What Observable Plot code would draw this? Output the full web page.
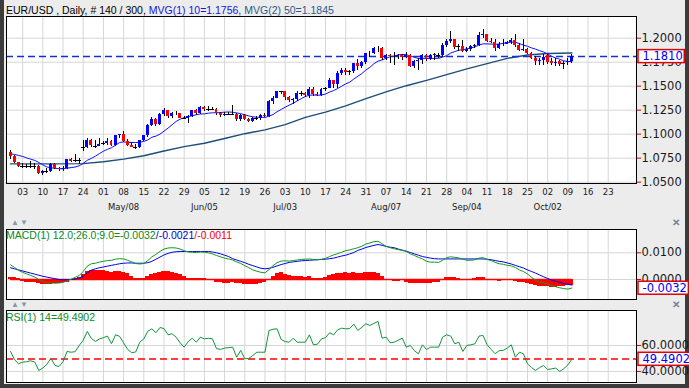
<!DOCTYPE html>
<html><head><meta charset="utf-8">
<script src="https://cdn.jsdelivr.net/npm/d3@7"></script>
<script src="https://cdn.jsdelivr.net/npm/@observablehq/plot@0.6"></script>
<style>
body{margin:0;background:#fff;}
#wrap{position:relative;width:689px;height:388px;background:#3c3c3c;overflow:hidden;font-family:"Liberation Sans",Arial,sans-serif;}
#inner{position:absolute;left:4px;top:0;width:681px;height:384px;background:#ececec;}
.svgp{position:absolute;left:0;}
.lbl{position:absolute;white-space:nowrap;font-size:10.5px;line-height:12px;}
.arr{position:absolute;font-size:8px;color:#8597b0;letter-spacing:1px;line-height:8px;}
.xic{position:absolute;font-size:10px;font-weight:bold;color:#72839a;line-height:10px;}
</style></head><body>
<div id="wrap"><div id="inner"></div>
<div class="lbl" style="left:6px;top:4px;"><span style="color:#000">EUR/USD , Daily, # 140 / 300, </span><span style="color:#1414e6">MVG(1) 10=1.1756, </span><span style="color:#2b5b8c">MVG(2) 50=1.1845</span></div>
<div class="arr" style="left:11px;top:219px;">▲▼</div>
<div class="xic" style="left:672px;top:218px;">✕</div>
<div class="arr" style="left:11px;top:301px;">▲▼</div>
<div class="xic" style="left:672px;top:300px;">✕</div>
</div>
<script>
// ---------- data (EUR/USD daily, 29 Mar 2017 .. 10 Oct 2017) ----------
const priorCloses = [1.0775,1.0760,1.0770,1.0811,1.0796,1.0790,1.0805,1.0866,1.0820];
const open = [1.0814,1.0767,1.0700,1.0660,1.0664,1.0661,1.0663,1.0660,1.0592,1.0610,
1.0607,1.0680,1.0645,1.0628,1.0644,1.0731,1.0718,1.0721,1.0862,1.0858,
1.0930,1.0877,1.0874,1.0895,1.0899,1.0928,1.0883,1.0985,1.0998,1.0928,
1.0877,1.0866,1.0863,1.0934,1.0981,1.1089,1.1158,1.1103,1.1206,1.1243,
1.1185,1.1216,1.1211,1.1165,1.1162,1.1181,1.1243,1.1214,1.1283,1.1255,
1.1258,1.1255,1.1211,1.1195,1.1200,1.1203,1.1206,1.1150,1.1198,1.1149,
1.1132,1.1166,1.1163,1.1195,1.1180,1.1336,1.1375,1.1443,1.1440,1.1380,
1.1346,1.1360,1.1422,1.1419,1.1402,1.1465,1.1414,1.1405,1.1470,1.1474,
1.1557,1.1515,1.1633,1.1665,1.1645,1.1648,1.1732,1.1700,1.1749,1.1840,
1.1845,1.1890,1.1895,1.1790,1.1815,1.1810,1.1805,1.1822,1.1795,1.1818,
1.1705,1.1760,1.1765,1.1815,1.1782,1.1815,1.1825,1.1822,1.1925,1.1965,
1.1985,1.1906,1.1910,1.1858,1.1880,1.1915,1.1925,1.2030,1.2035,1.1965,
1.1960,1.1890,1.1930,1.1935,1.1950,1.1975,1.1920,1.1875,1.1880,1.1845,
1.1790,1.1760,1.1768,1.1820,1.1760,1.1740,1.1760,1.1730,1.1750,1.1755];
const high = [1.0825,1.0777,1.0707,1.0695,1.0685,1.0715,1.0690,1.0672,1.0625,1.0640,
1.0696,1.0690,1.0655,1.0666,1.0738,1.0750,1.0785,1.0750,1.0937,1.0951,
1.0941,1.0932,1.0952,1.0920,1.0950,1.0935,1.0990,1.1000,1.1023,1.0940,
1.0910,1.0890,1.0935,1.0990,1.1100,1.1170,1.1160,1.1212,1.1268,1.1250,
1.1228,1.1240,1.1215,1.1180,1.1190,1.1250,1.1255,1.1285,1.1290,1.1285,
1.1282,1.1270,1.1230,1.1225,1.1230,1.1296,1.1220,1.1210,1.1205,1.1165,
1.1170,1.1185,1.1205,1.1215,1.1350,1.1389,1.1445,1.1446,1.1445,1.1390,
1.1368,1.1440,1.1444,1.1435,1.1490,1.1490,1.1430,1.1480,1.1490,1.1583,
1.1560,1.1658,1.1683,1.1680,1.1660,1.1740,1.1777,1.1755,1.1845,1.1860,
1.1900,1.1910,1.1900,1.1830,1.1830,1.1850,1.1835,1.1830,1.1850,1.1825,
1.1770,1.1790,1.1825,1.1830,1.1830,1.1840,1.1845,1.1940,1.1985,1.2070,
1.1990,1.1935,1.1980,1.1900,1.1925,1.1935,1.2060,1.2092,1.2040,1.1995,
1.1985,1.1950,1.1985,1.1965,1.1995,1.2035,1.1940,1.1985,1.1890,1.1850,
1.1810,1.1790,1.1830,1.1830,1.1790,1.1785,1.1770,1.1755,1.1785,1.1825];
const low = [1.0741,1.0690,1.0650,1.0641,1.0640,1.0645,1.0637,1.0580,1.0570,1.0585,
1.0600,1.0630,1.0612,1.0610,1.0635,1.0700,1.0705,1.0685,1.0821,1.0849,
1.0859,1.0851,1.0868,1.0880,1.0885,1.0870,1.0875,1.0950,1.0917,1.0870,
1.0860,1.0838,1.0855,1.0928,1.0970,1.1075,1.1075,1.1095,1.1188,1.1165,
1.1160,1.1190,1.1160,1.1150,1.1110,1.1175,1.1195,1.1205,1.1235,1.1240,
1.1245,1.1195,1.1170,1.1185,1.1190,1.1190,1.1130,1.1135,1.1140,1.1120,
1.1120,1.1140,1.1145,1.1170,1.1175,1.1310,1.1370,1.1410,1.1350,1.1335,
1.1312,1.1345,1.1390,1.1380,1.1375,1.1390,1.1390,1.1395,1.1440,1.1475,
1.1480,1.1480,1.1610,1.1613,1.1610,1.1630,1.1660,1.1680,1.1725,1.1795,
1.1825,1.1850,1.1770,1.1765,1.1735,1.1720,1.1780,1.1770,1.1785,1.1690,
1.1680,1.1660,1.1730,1.1760,1.1770,1.1770,1.1790,1.1800,1.1900,1.1940,
1.1880,1.1860,1.1855,1.1850,1.1865,1.1895,1.1910,1.2000,1.1955,1.1940,
1.1865,1.1880,1.1915,1.1930,1.1935,1.1905,1.1860,1.1860,1.1830,1.1775,
1.1715,1.1720,1.1720,1.1725,1.1715,1.1710,1.1700,1.1670,1.1720,1.1740];
const close = [1.0767,1.0700,1.0660,1.0664,1.0661,1.0663,1.0660,1.0592,1.0610,1.0607,
1.0680,1.0645,1.0628,1.0644,1.0731,1.0718,1.0721,1.0724,1.0858,1.0930,
1.0877,1.0874,1.0895,1.0899,1.0928,1.0883,1.0985,1.0998,1.0928,1.0877,
1.0866,1.0863,1.0934,1.0981,1.1089,1.1158,1.1103,1.1206,1.1243,1.1185,
1.1216,1.1211,1.1165,1.1162,1.1181,1.1243,1.1214,1.1283,1.1255,1.1258,
1.1255,1.1211,1.1195,1.1200,1.1203,1.1206,1.1150,1.1198,1.1149,1.1132,
1.1166,1.1163,1.1195,1.1180,1.1336,1.1375,1.1443,1.1440,1.1380,1.1346,
1.1360,1.1422,1.1419,1.1402,1.1465,1.1414,1.1405,1.1470,1.1474,1.1557,
1.1515,1.1633,1.1665,1.1645,1.1648,1.1732,1.1700,1.1749,1.1840,1.1845,
1.1890,1.1895,1.1790,1.1815,1.1810,1.1805,1.1822,1.1795,1.1818,1.1705,
1.1760,1.1765,1.1815,1.1782,1.1815,1.1825,1.1822,1.1925,1.1965,1.1985,
1.1906,1.1910,1.1858,1.1880,1.1915,1.1925,1.2030,1.2035,1.1965,1.1960,
1.1890,1.1930,1.1935,1.1950,1.1975,1.1920,1.1875,1.1880,1.1845,1.1790,
1.1760,1.1768,1.1795,1.1745,1.1735,1.1748,1.1730,1.1733,1.1755,1.1810];
// 50-period moving average, read at weekly points (bar index, value)
const ma50Idx = [0,10,18,23,28,33,38,43,48,53,58,63,68,73,78,83,88,93,98,103,108,113,118,123,128,133,139];
const ma50Val = [1.0690,1.0690,1.0693,1.0712,1.0740,1.0775,1.0825,1.0870,1.0905,1.0955,1.1005,1.1045,1.1100,1.1175,1.1230,1.1295,1.1370,1.1440,1.1505,1.1560,1.1620,1.1680,1.1735,1.1790,1.1825,1.1840,1.1845];
const macd = [0.0055,0.0045,0.0034,0.0027,0.0021,0.0015,0.0009,0.0000,-0.0008,-0.0011,
-0.0013,-0.0014,-0.0013,-0.0011,-0.0005,0.0001,0.0008,0.0015,0.0030,0.0050,
0.0059,0.0061,0.0065,0.0068,0.0071,0.0072,0.0076,0.0078,0.0077,0.0072,
0.0066,0.0060,0.0058,0.0060,0.0071,0.0085,0.0094,0.0105,0.0114,0.0118,
0.0119,0.0118,0.0114,0.0108,0.0103,0.0102,0.0101,0.0103,0.0102,0.0100,
0.0096,0.0090,0.0085,0.0080,0.0077,0.0073,0.0066,0.0060,0.0052,0.0044,
0.0036,0.0031,0.0027,0.0025,0.0037,0.0052,0.0063,0.0069,0.0070,0.0069,
0.0071,0.0073,0.0075,0.0076,0.0077,0.0075,0.0074,0.0076,0.0079,0.0086,
0.0092,0.0097,0.0102,0.0108,0.0111,0.0115,0.0119,0.0125,0.0133,0.0137,
0.0142,0.0143,0.0134,0.0124,0.0119,0.0115,0.0112,0.0109,0.0105,0.0096,
0.0090,0.0083,0.0077,0.0068,0.0065,0.0065,0.0064,0.0072,0.0082,0.0085,
0.0083,0.0081,0.0076,0.0072,0.0072,0.0074,0.0080,0.0082,0.0075,0.0071,
0.0064,0.0059,0.0057,0.0053,0.0051,0.0045,0.0036,0.0030,0.0021,0.0008,
-0.0002,-0.0009,-0.0012,-0.0017,-0.0023,-0.0027,-0.0031,-0.0034,-0.0036,-0.0032];
const signal = [0.0044,0.0040,0.0036,0.0032,0.0028,0.0024,0.0020,0.0016,0.0012,0.0009,
0.0006,0.0003,0.0000,-0.0001,-0.0001,0.0000,0.0002,0.0006,0.0012,0.0025,
0.0035,0.0040,0.0044,0.0047,0.0050,0.0053,0.0056,0.0059,0.0061,0.0062,
0.0062,0.0061,0.0061,0.0061,0.0063,0.0068,0.0076,0.0084,0.0092,0.0098,
0.0102,0.0104,0.0105,0.0105,0.0105,0.0105,0.0105,0.0105,0.0105,0.0105,
0.0103,0.0100,0.0096,0.0091,0.0086,0.0078,0.0073,0.0068,0.0063,0.0057,
0.0052,0.0047,0.0042,0.0040,0.0042,0.0046,0.0051,0.0056,0.0060,0.0064,
0.0066,0.0068,0.0070,0.0071,0.0072,0.0073,0.0074,0.0075,0.0076,0.0078,
0.0080,0.0084,0.0088,0.0091,0.0096,0.0101,0.0109,0.0114,0.0120,0.0124,
0.0128,0.0131,0.0128,0.0124,0.0121,0.0119,0.0114,0.0110,0.0106,0.0101,
0.0096,0.0091,0.0086,0.0083,0.0080,0.0078,0.0077,0.0077,0.0077,0.0077,
0.0077,0.0077,0.0077,0.0077,0.0077,0.0077,0.0077,0.0077,0.0076,0.0074,
0.0071,0.0068,0.0066,0.0062,0.0058,0.0053,0.0048,0.0043,0.0036,0.0030,
0.0024,0.0017,0.0010,0.0004,-0.0002,-0.0007,-0.0011,-0.0015,-0.0018,-0.0021];
const hist = [0.0008,0.0006,0.0002,-0.0008,-0.0010,-0.0012,-0.0013,-0.0016,-0.0019,-0.0018,
-0.0017,-0.0016,-0.0014,-0.0012,-0.0010,-0.0004,0.0002,0.0008,0.0020,0.0030,
0.0034,0.0032,0.0033,0.0032,0.0031,0.0028,0.0030,0.0030,0.0028,0.0022,
0.0012,0.0004,0.0002,0.0004,0.0010,0.0018,0.0024,0.0028,0.0031,0.0030,
0.0028,0.0024,0.0018,0.0010,0.0004,0.0002,0.0002,0.0003,0.0002,0.0001,
-0.0005,-0.0010,-0.0012,-0.0014,-0.0014,-0.0013,-0.0015,-0.0016,-0.0019,-0.0019,
-0.0018,-0.0017,-0.0015,-0.0010,0.0000,0.0012,0.0022,0.0025,0.0020,0.0016,
0.0013,0.0011,0.0010,0.0009,0.0010,0.0005,0.0002,0.0003,0.0006,0.0014,
0.0020,0.0022,0.0024,0.0025,0.0024,0.0026,0.0022,0.0024,0.0026,0.0026,
0.0028,0.0024,0.0012,0.0000,-0.0004,-0.0008,-0.0006,-0.0004,-0.0010,-0.0014,
-0.0015,-0.0016,-0.0016,-0.0016,-0.0015,-0.0013,-0.0010,-0.0002,0.0006,0.0008,
0.0006,0.0004,0.0000,-0.0001,0.0000,0.0002,0.0006,0.0008,0.0000,-0.0004,
-0.0005,-0.0006,-0.0004,-0.0004,-0.0003,-0.0006,-0.0010,-0.0011,-0.0014,-0.0020,
-0.0024,-0.0026,-0.0025,-0.0028,-0.0030,-0.0030,-0.0028,-0.0027,-0.0024,-0.0022];
const rsi = [55.4,49,45.9,47.2,47.5,48.2,47.2,40.8,42.6,45.5,
50.2,44.6,43.8,47.5,55.4,54.8,55.2,60,64,70.8,
65.5,63.1,65,66,67.2,61.3,68.2,67,62,57,
54.4,55,62.5,65,71,72.8,69.8,73.8,73,68.2,
69,66.4,62,58.7,63,65.6,62.5,66.4,65.1,65.5,
65.1,57.5,57,58,58.3,58.7,51,56.2,49.8,50,
52.3,54.8,54.8,54.8,71.5,72.5,72.8,64.6,63,62.5,
65.6,62.5,62.5,62.5,68.2,60.5,61,65.1,66,69.8,
68.2,72,73.3,72.8,73,76.4,71.5,74,76.7,75.4,
77,78.5,65.6,66.4,62.1,62.5,64,65.6,58.7,60,
56,53.6,60.5,56.9,58.7,58.7,58.7,66.4,68.2,67.2,
61.3,62.5,55.4,60,60.5,61.3,67.2,67.7,60.5,57,
53.6,56,56.2,58,60.5,51,54.8,53.6,45.9,43,
40.8,43,44.6,41.5,42,42.6,40,42.1,45,49.4902];
// axis ticks
const tickIdx = [3,8,13,18,23,28,33,38,43,48,53,58,63,68,73,78,83,88,93,98,103,108,113,118,123,128,133,138,143,148];
const tickLabels = ["03","10","17","24","01","08","15","22","29","05","12","19","26","03","10","17","24","31","07","14","21","28","04","11","18","25","02","09","16","23"];
const monthIdx = [28,48,68,93,113,133];
const monthLabels = ["May/08","Jun/05","Jul/03","Aug/07","Sep/04","Oct/02"];
const priceTicks = [1.05,1.075,1.10,1.125,1.15,1.175,1.20];
const macdTicks = [0,0.01];
const rsiTicks = [40,60];
const lastPrice = 1.1810, lastMacd = -0.0032, lastRsi = 49.4902;

// ---------- build ----------
const allC = priorCloses.concat(close);
const bars = close.map((c,i)=>({i, open:open[i], high:high[i], low:low[i], close:c,
  ma10: d3.mean(allC.slice(i, i+10)), macd:macd[i], signal:signal[i], hist:hist[i], rsi:rsi[i]}));
const isDoji = d => Math.abs(d.close-d.open) < 0.00045;
const bodies = bars.filter(d=>!isDoji(d));
const dojis = bars.filter(isDoji);
const ma50 = ma50Idx.map((i,k)=>({i, v:ma50Val[k]}));
const xDomain = [-1, 155];
const W = 689, ML = 6, MR = 53;
const FONT = "DejaVu Sans";
const grid = "#d6d6d6";

function common(extra){
  return Object.assign({width:W, marginLeft:ML, marginRight:MR,
    x:{domain:xDomain, axis:null},
    style:{background:"transparent", overflow:"visible", fontFamily:FONT}}, extra);
}
function yAxis(ticks, fmt){
  return Plot.axisY(ticks, {anchor:"right", tickSize:4, tickPadding:1, stroke:"#e00000", fill:"#1a1a1a",
    tickFormat:fmt, fontSize:11.5, fontFamily:FONT, label:null});
}
function lastLabel(v, txt){
  return Plot.text([v], {y:d=>d, frameAnchor:"right", dx:6, textAnchor:"start", text:()=>txt,
    fill:"#0000ff", fontSize:11.5, fontFamily:FONT});
}
function boxify(svg, txt){
  for (const t of svg.querySelectorAll("text")) {
    if (t.textContent === txt && t.getAttribute("fill") !== "#1a1a1a") {
      const b = t.getBBox();
      const tr = t.getAttribute("transform");
      const r = document.createElementNS("http://www.w3.org/2000/svg","rect");
      r.setAttribute("x", b.x-4.5); r.setAttribute("y", b.y+0.5);
      r.setAttribute("width", b.width+6); r.setAttribute("height", b.height-1);
      r.setAttribute("fill","#fff"); r.setAttribute("stroke","#e00000"); r.setAttribute("stroke-width","1.5");
      if (tr) r.setAttribute("transform", tr);
      t.parentNode.insertBefore(r, t);
    }
  }
}
function mount(svg, top){
  svg.classList.add("svgp"); svg.style.position="absolute"; svg.style.top = top+"px"; svg.style.left="0px";
  document.getElementById("wrap").appendChild(svg);
}

// main price panel
const main = Plot.plot(common({
  height:205, marginTop:1, marginBottom:37,
  y:{domain:[1.0486,1.2226], axis:null, label:null},
  marks:[
    Plot.frame({fill:"#fff", stroke:null}),
    Plot.ruleX(tickIdx, {x:d=>d, stroke:grid}),
    Plot.ruleY(priceTicks, {y:d=>d, stroke:grid}),
    Plot.line(ma50, {x:"i", y:"v", stroke:"#1d4e7a", strokeWidth:1.4}),
    Plot.line(bars, {x:"i", y:"ma10", stroke:"#1010ff", strokeWidth:1}),
    Plot.ruleY([lastPrice], {y:d=>d, stroke:"#1030d8", strokeWidth:1.5, strokeDasharray:"7,4"}),
    Plot.ruleX(bars, {x:"i", y1:"low", y2:"high", stroke:"#000", strokeWidth:1, shapeRendering:"crispEdges"}),
    Plot.rect(bodies, {x1:d=>d.i-0.37, x2:d=>d.i+0.37, y1:"open", y2:"close",
      fill:d=>d.close>d.open?"#0000ff":"#ff0000", shapeRendering:"crispEdges"}),
    Plot.ruleY(dojis, {y:"close", x1:d=>d.i-0.5, x2:d=>d.i+0.5, stroke:"#000", shapeRendering:"crispEdges"}),
    Plot.frame({stroke:"#000"}),
    yAxis(priceTicks, d3.format(".4f")),
    Plot.text(tickIdx, {x:d=>d, text:(d,k)=>tickLabels[k], frameAnchor:"bottom", dy:11, fontSize:8.5, fill:"#1a1a1a"}),
    Plot.text(monthIdx, {x:d=>d, text:(d,k)=>monthLabels[k], frameAnchor:"bottom", dy:26, fontSize:8.5, fill:"#1a1a1a"}),
    lastLabel(lastPrice, "1.1810")
  ]
}));
mount(main, 15);
boxify(main, "1.1810");

// MACD panel
const macdPlot = Plot.plot(common({
  height:72, marginTop:1, marginBottom:1,
  y:{domain:[-0.00749,0.01873], axis:null, label:null},
  marks:[
    Plot.frame({fill:"#fff", stroke:null}),
    Plot.ruleX(tickIdx, {x:d=>d, stroke:grid}),
    Plot.ruleY(macdTicks, {y:d=>d, stroke:grid}),
    Plot.rect(bars, {x1:d=>d.i-0.5, x2:d=>d.i+0.5, y1:0, y2:"hist", fill:"#ff0000", shapeRendering:"crispEdges"}),
    Plot.ruleY([0], {x1:bars[0].i, x2:bars[bars.length-1].i, stroke:"#ff0000", strokeWidth:1.5}),
    Plot.line(bars, {x:"i", y:"signal", stroke:"#0000ee", strokeWidth:1}),
    Plot.line(bars, {x:"i", y:"macd", stroke:"#109a20", strokeWidth:1}),
    Plot.frame({stroke:"#000"}),
    yAxis(macdTicks, d3.format(".4f")),
    lastLabel(lastMacd, "-0.0032")
  ]
}));
mount(macdPlot, 228);
boxify(macdPlot, "-0.0032");

// RSI panel
const rsiPlot = Plot.plot(common({
  height:74, marginTop:1, marginBottom:1,
  y:{domain:[31.5,86.9], axis:null, label:null},
  marks:[
    Plot.frame({fill:"#fff", stroke:null}),
    Plot.ruleX(tickIdx, {x:d=>d, stroke:grid}),
    Plot.ruleY(rsiTicks, {y:d=>d, stroke:grid}),
    Plot.ruleY([lastRsi], {y:d=>d, stroke:"#ff0000", strokeWidth:1.5, strokeDasharray:"7,4"}),
    Plot.line(bars, {x:"i", y:"rsi", stroke:"#12953a", strokeWidth:1}),
    Plot.frame({stroke:"#000"}),
    yAxis(rsiTicks, d3.format(".4f")),
    lastLabel(lastRsi, "49.4902")
  ]
}));
mount(rsiPlot, 309);
boxify(rsiPlot, "49.4902");

// panel labels (multi-coloured text)
const wrap = document.getElementById("wrap");
function addLabel(html, left, top){
  const d = document.createElement("div"); d.className="lbl"; d.style.left=left+"px"; d.style.top=top+"px";
  d.innerHTML = html; wrap.appendChild(d);
}
addLabel('<span style="color:#0c8a1c">MACD(1) 12.0;26.0;9.0=-0.0032</span><span style="color:#0000e0">/-0.0021</span><span style="color:#ff0000">/-0.0011</span>', 6, 229);
addLabel('<span style="color:#0c8a1c">RSI(1) 14=49.4902</span>', 6, 311);
</script>
</body></html>
